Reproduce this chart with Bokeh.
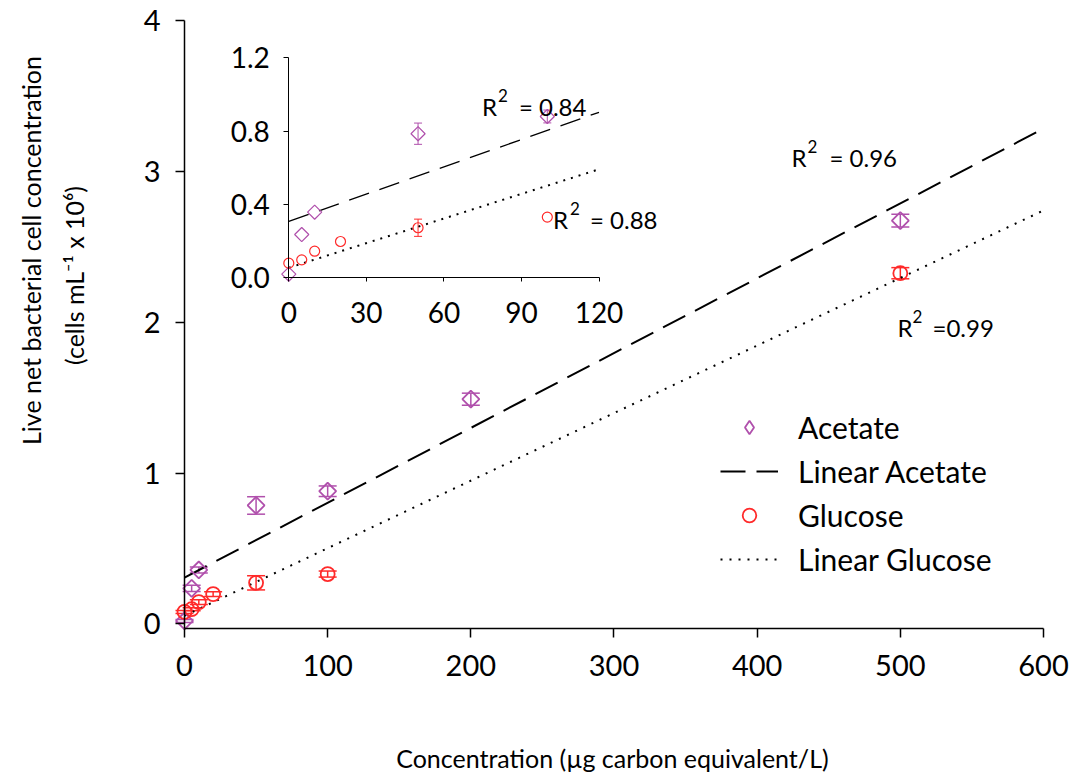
import numpy as np
from bokeh.plotting import figure
from bokeh.models import (Range1d, LinearAxis, FixedTicker, NumeralTickFormatter, Label,
                          Legend, LegendItem, Whisker, TeeHead, ColumnDataSource)
from bokeh.embed import file_html
from bokeh.resources import INLINE

# ---------------- data ----------------
acetate_x = [0, 5, 10, 50, 100, 200, 500]
acetate_y = [0.02, 0.236, 0.358, 0.786, 0.88, 1.49, 2.674]
acetate_err = [0.01, 0.02, 0.02, 0.058, 0.035, 0.04, 0.042]

glucose_x = [0, 5, 10, 20, 50, 100, 500]
glucose_y = [0.08, 0.098, 0.145, 0.198, 0.273, 0.331, 2.325]
glucose_err = [0.01, 0.01, 0.015, 0.015, 0.047, 0.02, 0.037]

main_x_ticks = [0, 100, 200, 300, 400, 500, 600]
main_y_ticks = [0, 1, 2, 3, 4]
inset_x_ticks = [0, 30, 60, 90, 120]
inset_y_ticks = [0.0, 0.4, 0.8, 1.2]

r2_main_acetate = "= 0.96"
r2_main_glucose = "=0.99"
r2_inset_acetate = "= 0.84"
r2_inset_glucose = "= 0.88"

series_names = ["Acetate", "Linear Acetate", "Glucose", "Linear Glucose"]
x_title = "Concentration (µg carbon equivalent/L)"
y_title_1 = "Live net bacterial cell concentration"
y_title_2 = "(cells mL⁻¹ x 10⁶)"

AC = "#B050AC"
GL = "#FF2A2A"
FONT = "Lato"

# linear fits
a_slope, a_int = np.polyfit(acetate_x, acetate_y, 1)
g_slope, g_int = np.polyfit(glucose_x, glucose_y, 1)

# frame covers the whole canvas; axes are placed inside with fixed_location
p = figure(width=1072, height=776, output_backend="svg", toolbar_location=None,
           x_range=Range1d(-128.52, 620.26), y_range=Range1d(-1.0108, 4.1326),
           x_axis_location=None, y_axis_location=None,
           min_border_left=0, min_border_right=0, min_border_top=0, min_border_bottom=0)
p.xgrid.visible = False
p.ygrid.visible = False
p.outline_line_color = None
p.background_fill_color = "white"
p.border_fill_color = "white"

p.extra_x_ranges = {"ix": Range1d(-111.53, 303.17)}
p.extra_y_ranges = {"iy": Range1d(-2.7202, 1.5126),
                    "legend_only": Range1d(1000, 2000)}  # puts legend proxy glyph off-canvas


def style_axis(ax, lw, tick_out, size, standoff):
    ax.axis_line_width = lw
    ax.axis_line_color = "black"
    ax.major_tick_line_width = lw
    ax.major_tick_line_color = "black"
    ax.major_tick_out = tick_out
    ax.major_tick_in = 0
    ax.minor_tick_out = 0
    ax.minor_tick_in = 0
    ax.major_label_text_font = FONT
    ax.major_label_text_font_size = size
    ax.major_label_text_color = "black"
    ax.major_label_standoff = standoff


# main axes
xax = LinearAxis(fixed_location=-0.03, bounds=(0, 600), ticker=FixedTicker(ticks=main_x_ticks))
style_axis(xax, 1.5, 9, "29px", 17)
p.add_layout(xax, "below")
yax = LinearAxis(fixed_location=0, bounds=(-0.03, 4), ticker=FixedTicker(ticks=main_y_ticks))
style_axis(yax, 1.5, 9, "29px", 15)
p.add_layout(yax, "left")

# inset axes
ixax = LinearAxis(x_range_name="ix", y_range_name="iy", fixed_location=0, bounds=(0, 120),
                  ticker=FixedTicker(ticks=inset_x_ticks))
style_axis(ixax, 1, 4, "28px", 20)
p.add_layout(ixax, "below")
iyax = LinearAxis(x_range_name="ix", y_range_name="iy", fixed_location=0, bounds=(0, 1.2),
                  ticker=FixedTicker(ticks=inset_y_ticks), formatter=NumeralTickFormatter(format="0.0"))
style_axis(iyax, 1, 5, "28px", 14)
p.add_layout(iyax, "left")

# ---------------- main plot glyphs ----------------
fit_x_main = np.array([0, 600])
la = p.line(fit_x_main, a_int + a_slope * fit_x_main, line_color="black", line_width=2,
            line_dash="25 11")
lg = p.line(fit_x_main, g_int + g_slope * fit_x_main, line_color="black", line_width=2,
            line_dash="2 7")

for xs, ys, es, col in [(acetate_x, acetate_y, acetate_err, AC), (glucose_x, glucose_y, glucose_err, GL)]:
    src = ColumnDataSource(dict(x=xs, upper=[y + e for y, e in zip(ys, es)],
                                lower=[y - e for y, e in zip(ys, es)]))
    p.add_layout(Whisker(source=src, base="x", upper="upper", lower="lower", dimension="height",
                         line_color=col, line_width=1.5,
                         upper_head=TeeHead(size=18, line_color=col, line_width=1.5),
                         lower_head=TeeHead(size=18, line_color=col, line_width=1.5)))

ra = p.scatter(acetate_x, acetate_y, marker="square", angle=np.pi / 4, size=12,
               fill_color="white", fill_alpha=0, line_color=AC, line_width=1.8)
rg = p.scatter(glucose_x, glucose_y, marker="circle", size=14,
               fill_color="white", fill_alpha=0, line_color=GL, line_width=1.8)
# legend proxy for the acetate diamond (legend markers are never rotated);
# it uses an off-canvas y range so that nothing of it shows in the plot itself
ra_leg = p.scatter(acetate_x, acetate_y, marker="diamond", size=15, fill_alpha=0, line_color=AC,
                   line_width=1.8, y_range_name="legend_only")

# ---------------- inset glyphs ----------------
fit_x_in = np.array([0, 120])
p.line(fit_x_in, a_int + a_slope * fit_x_in, line_color="black", line_width=1.3,
       line_dash="21 11", x_range_name="ix", y_range_name="iy")
p.line(fit_x_in, g_int + g_slope * fit_x_in, line_color="black", line_width=2,
       line_dash="2 6", x_range_name="ix", y_range_name="iy")

for xs, ys, es, col in [(acetate_x, acetate_y, acetate_err, AC), (glucose_x, glucose_y, glucose_err, GL)]:
    sel = [i for i, x in enumerate(xs) if x <= 120 and es[i] >= 0.025]
    src = ColumnDataSource(dict(x=[xs[i] for i in sel], upper=[ys[i] + es[i] for i in sel],
                                lower=[ys[i] - es[i] for i in sel]))
    p.add_layout(Whisker(source=src, base="x", upper="upper", lower="lower", dimension="height",
                         line_color=col, line_width=1, x_range_name="ix", y_range_name="iy",
                         upper_head=TeeHead(size=8, line_color=col, line_width=1),
                         lower_head=TeeHead(size=8, line_color=col, line_width=1)))

ia = [i for i, x in enumerate(acetate_x) if x <= 120]
ig = [i for i, x in enumerate(glucose_x) if x <= 120]
p.scatter([acetate_x[i] for i in ia], [acetate_y[i] for i in ia], marker="square", angle=np.pi / 4,
          size=10, fill_alpha=0, line_color=AC, line_width=1.2, x_range_name="ix", y_range_name="iy")
p.scatter([glucose_x[i] for i in ig], [glucose_y[i] for i in ig], marker="circle", size=10,
          fill_alpha=0, line_color=GL, line_width=1.2, x_range_name="ix", y_range_name="iy")


# ---------------- R² labels ----------------
def r2_label(x, y, val, dx2, dxv, rx="default", ry="default", size=24):
    for text, dx, dy, fs in [("R", 0, 0, size), ("2", dx2, 11, round(size * 0.72)), (val, dxv, 0, size)]:
        p.add_layout(Label(x=x, y=y, text=text, x_offset=dx, y_offset=dy, text_font=FONT,
                           text_font_size=f"{fs}px", text_baseline="alphabetic", text_color="black",
                           x_range_name=rx, y_range_name=ry))


r2_label(424.0, 3.09, r2_main_acetate, 16, 38)
r2_label(498.0, 1.965, r2_main_glucose, 15, 35)
r2_label(74.7, 0.936, r2_inset_acetate, 16, 37, "ix", "iy")
r2_label(102.2, 0.319, r2_inset_glucose, 17, 37, "ix", "iy")

# ---------------- axis titles ----------------
p.add_layout(Label(x=-107.5, y=2.4755, text=y_title_1, angle=np.pi / 2, text_align="center",
                   text_baseline="middle", text_font=FONT, text_font_size="25px", text_color="black"))
p.add_layout(Label(x=-77.5, y=2.31, text=y_title_2, angle=np.pi / 2, text_align="center",
                   text_baseline="middle", text_font=FONT, text_font_size="25px", text_color="black"))
p.add_layout(Label(x=298.9, y=-0.885, text=x_title, text_align="center",
                   text_baseline="middle", text_font=FONT, text_font_size="25px", text_color="black"))

# ---------------- legend ----------------
legend = Legend(items=[LegendItem(label=series_names[0], renderers=[ra_leg]),
                       LegendItem(label=series_names[1], renderers=[la]),
                       LegendItem(label=series_names[2], renderers=[rg]),
                       LegendItem(label=series_names[3], renderers=[lg])],
                location=(720, 199), orientation="vertical", border_line_color=None,
                background_fill_alpha=0, padding=0, margin=0, spacing=8,
                glyph_width=58, glyph_height=34, label_height=34, label_standoff=20,
                label_text_font=FONT, label_text_font_size="30px", label_text_color="black")
p.add_layout(legend)

open("out.html", "w").write(file_html(p, INLINE))
